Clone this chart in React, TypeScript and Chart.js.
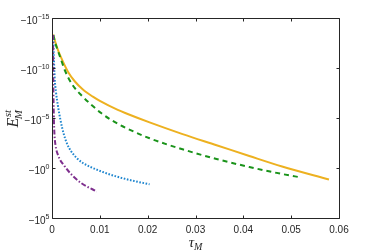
import React, { useEffect, useRef } from "react";
import { Chart, registerables } from "chart.js";

Chart.register(...registerables);

// tau_M values and log10(|E_M^st|) (E is negative; axis shows -10^n)
const yellowTau = [0.00027, 0.000625, 0.00125, 0.00229, 0.00333, 0.00479, 0.00646, 0.00854, 0.01, 0.01375, 0.01556, 0.0204, 0.0273, 0.0344, 0.04125, 0.0481, 0.0579];
const yellowExp = [-13.35, -12.7, -11.8, -10.63, -9.63, -8.65, -7.85, -7.13, -6.71, -5.81, -5.45, -4.56, -3.39, -2.28, -1.2, -0.15, 1.15];

const greenTau = [0.00027, 0.000625, 0.00125, 0.00188, 0.00271, 0.00354, 0.00444, 0.00619, 0.00827, 0.01035, 0.01244, 0.01485, 0.0204, 0.0273, 0.0344, 0.04125, 0.0481, 0.0521];
const greenExp = [-13.3, -12.6, -11.7, -10.85, -9.75, -8.9, -8.2, -7.25, -6.3, -5.47, -4.79, -4.15, -2.97, -1.87, -0.9, -0.1, 0.6, 0.95];

const blueTau = [0.00027, 0.000375, 0.00056, 0.00083, 0.00125, 0.00177, 0.0024, 0.00313, 0.00396, 0.00515, 0.00646, 0.00792, 0.01063, 0.01348, 0.01688, 0.0204];
const blueExp = [-13.3, -11.3, -9.0, -7.6, -6.2, -4.8, -3.5, -2.45, -1.7, -1.0, -0.5, -0.13, 0.4, 0.85, 1.27, 1.63];

const purpleTau = [0.00021, 0.00027, 0.000375, 0.00052, 0.00073, 0.00125, 0.00271, 0.00438, 0.00625, 0.00938];
const purpleExp = [-13.3, -8.8, -5.3, -3.3, -2.3, -1.3, -0.13, 0.8, 1.55, 2.35];

const xTicks = [0, 0.01, 0.02, 0.03, 0.04, 0.05, 0.06];
const xTickLabels = ["0", "0.01", "0.02", "0.03", "0.04", "0.05", "0.06"];
const yTickExps = [-15, -10, -5, 0, 5];
const yTickSup = ["\u221215", "\u221210", "\u22125", "0", "5"];

const AXIS_COLOR = "#262626";
const SANS = "'Liberation Sans', Arial, Helvetica, sans-serif";
const SERIF = "'Liberation Serif', 'Times New Roman', serif";

const toPts = (t: number[], e: number[]) => t.map((v, i) => ({ x: v, y: Math.pow(10, e[i]) }));

const axesPlugin = {
  id: "matlabAxes",
  afterDraw(chart: any) {
    const { ctx, chartArea } = chart;
    const xs = chart.scales.x;
    const ys = chart.scales.y;
    const L = Math.round(chartArea.left) + 0.5;
    const R = Math.round(chartArea.right) + 0.5;
    const T = Math.round(chartArea.top) + 0.5;
    const B = Math.round(chartArea.bottom) + 0.5;
    ctx.save();
    ctx.strokeStyle = AXIS_COLOR;
    ctx.lineWidth = 1;
    ctx.beginPath();
    ctx.rect(L, T, R - L, B - T);
    ctx.stroke();
    const tl = 3;
    ctx.beginPath();
    xTicks.forEach((v) => {
      const px = Math.round(xs.getPixelForValue(v)) + 0.5;
      ctx.moveTo(px, B);
      ctx.lineTo(px, B - tl);
      ctx.moveTo(px, T);
      ctx.lineTo(px, T + tl);
    });
    yTickExps.forEach((e) => {
      const py = Math.round(ys.getPixelForValue(Math.pow(10, e))) + 0.5;
      ctx.moveTo(L, py);
      ctx.lineTo(L + tl, py);
      ctx.moveTo(R, py);
      ctx.lineTo(R - tl, py);
    });
    ctx.stroke();

    ctx.fillStyle = AXIS_COLOR;
    ctx.font = `10px ${SANS}`;
    ctx.textAlign = "center";
    ctx.textBaseline = "alphabetic";
    xTicks.forEach((v, i) => {
      const px = xs.getPixelForValue(v);
      ctx.fillText(xTickLabels[i], px, 232.5);
    });

    yTickExps.forEach((e, i) => {
      const py = ys.getPixelForValue(Math.pow(10, e));
      ctx.font = `7px ${SANS}`;
      ctx.textAlign = "right";
      const sup = yTickSup[i];
      const supW = ctx.measureText(sup).width;
      const rx = 49.5;
      ctx.fillText(sup, rx, py + 0.5);
      ctx.font = `10px ${SANS}`;
      ctx.fillText("\u221210", rx - supW, py + 6);
    });

    // x label: tau_M
    const cx = (chartArea.left + chartArea.right) / 2;
    ctx.textAlign = "left";
    ctx.font = `italic 15px ${SERIF}`;
    const tauW = ctx.measureText("\u03C4").width;
    ctx.font = `italic 10px ${SERIF}`;
    const mW = ctx.measureText("M").width;
    const totalX = tauW + mW;
    ctx.font = `italic 15px ${SERIF}`;
    ctx.fillText("\u03C4", cx - totalX / 2, 247);
    ctx.font = `italic 10px ${SERIF}`;
    ctx.fillText("M", cx - totalX / 2 + tauW, 250);

    // y label: E_M^st rotated
    const cy = (chartArea.top + chartArea.bottom) / 2;
    ctx.save();
    ctx.translate(18, cy);
    ctx.rotate(-Math.PI / 2);
    ctx.font = `italic 16px ${SERIF}`;
    const eW = ctx.measureText("E").width;
    ctx.font = `italic 11px ${SERIF}`;
    const stW = ctx.measureText("st").width;
    const m2W = ctx.measureText("M").width;
    const tot = eW + Math.max(stW, m2W);
    const x0 = -tot / 2;
    ctx.font = `italic 16px ${SERIF}`;
    ctx.fillText("E", x0, 0);
    ctx.font = `italic 11px ${SERIF}`;
    ctx.fillText("st", x0 + eW + 0.5, -7);
    ctx.fillText("M", x0 + eW - 1.5, 4);
    ctx.restore();

    ctx.restore();
  },
};

export default function App() {
  const ref = useRef<HTMLCanvasElement | null>(null);
  useEffect(() => {
    if (!ref.current) return;
    const common = {
      fill: false,
      pointRadius: 0,
      cubicInterpolationMode: "monotone" as const,
      borderCapStyle: "butt" as const,
    };
    const chart = new Chart(ref.current, {
      type: "line",
      data: {
        datasets: [
          { ...common, label: "purple", data: toPts(purpleTau, purpleExp), borderColor: "#7E2F8E", borderWidth: 2, borderDash: [5, 2, 1.5, 2] },
          { ...common, label: "blue", data: toPts(blueTau, blueExp), borderColor: "#1f86cf", borderWidth: 2, borderDash: [1.6, 1.6] },
          { ...common, label: "green", data: toPts(greenTau, greenExp), borderColor: "#1a931a", borderWidth: 2, borderDash: [5, 4] },
          { ...common, label: "yellow", data: toPts(yellowTau, yellowExp), borderColor: "#EDB120", borderWidth: 2 },
        ],
      },
      options: {
        responsive: false,
        animation: false,
        events: [],
        layout: { padding: { left: 52, right: 35, top: 18, bottom: 32 } },
        plugins: { legend: { display: false }, tooltip: { enabled: false } },
        scales: {
          x: { type: "linear", min: 0, max: 0.06, display: false },
          y: { type: "logarithmic", min: 1e-15, max: 1e5, reverse: true, display: false },
        },
      },
      plugins: [axesPlugin],
    });
    return () => chart.destroy();
  }, []);
  return (
    <div style={{ position: "absolute", left: 0, top: 0, width: 374, height: 250, background: "#fff" }}>
      <canvas ref={ref} width={374} height={250} />
    </div>
  );
}
